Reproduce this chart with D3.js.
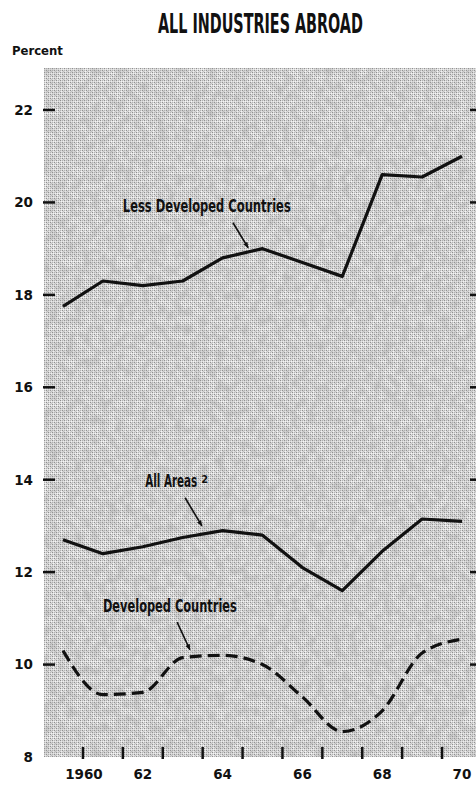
<!DOCTYPE html>
<html>
<head>
<meta charset="utf-8">
<script src="https://cdn.jsdelivr.net/npm/d3@7"></script>
<style>
  html, body { margin: 0; padding: 0; background: #fff; }
  svg { display: block; }
</style>
</head>
<body>
<svg id="chart" width="476" height="786"></svg>
<script>
// Rate of return, all industries abroad, 1960-1970 (percent)
const years = [1960, 1961, 1962, 1963, 1964, 1965, 1966, 1967, 1968, 1969, 1970];
const lessDeveloped = [17.75, 18.3, 18.2, 18.3, 18.8, 19.0, 18.7, 18.4, 20.6, 20.55, 21.0];
const allAreas      = [12.7, 12.4, 12.55, 12.75, 12.9, 12.8, 12.1, 11.6, 12.45, 13.15, 13.1];
const developed     = [10.3, 9.35, 9.4, 10.15, 10.2, 10.0, 9.3, 8.55, 9.0, 10.25, 10.55];

const yTicks = [8, 10, 12, 14, 16, 18, 20, 22];
const xTickYears = [1960, 1962, 1964, 1966, 1968, 1970];
const xTickLabels = ["1960", "62", "64", "66", "68", "70"];

const svg = d3.select("#chart");
const plot = { left: 44, right: 476, top: 68, bottom: 757 };

const x = d3.scaleLinear().domain([1960, 1970]).range([63, 462]);
const y = d3.scaleLinear().domain([8, 22]).range([757, 110]);

// Draws a text squeezed horizontally to a given width (condensed display type)
function fitText(g, str, px, py, width, size, family) {
  const t = g.append("text")
    .attr("font-family", family).attr("font-weight", "bold").attr("font-size", size)
    .attr("fill", "#111").text(str);
  const natural = t.node().getComputedTextLength();
  t.attr("transform", `translate(${px},${py}) scale(${width / natural},1)`);
  return t;
}

// ---- stippled background texture ----
const defs = svg.append("defs");
const pat = defs.append("pattern")
  .attr("id", "stipple").attr("patternUnits", "userSpaceOnUse")
  .attr("width", 4).attr("height", 4);
pat.append("rect").attr("width", 4).attr("height", 4).attr("fill", "#dedede");
[[0,0,"#8e8e8e"],[2,0,"#b4b4b4"],[1,1,"#f4f4f4"],[3,1,"#f4f4f4"],[0,2,"#b4b4b4"],[2,2,"#8e8e8e"],[1,3,"#f4f4f4"],[3,3,"#c8c8c8"]]
  .forEach(([px, py, c]) => pat.append("rect").attr("x", px).attr("y", py)
    .attr("width", 1).attr("height", 1).attr("fill", c));

const mottle = defs.append("filter").attr("id", "mottle")
  .attr("x", 0).attr("y", 0).attr("width", 1).attr("height", 1);
mottle.append("feTurbulence").attr("type", "fractalNoise")
  .attr("baseFrequency", 0.12).attr("numOctaves", 2).attr("seed", 7).attr("result", "n");
mottle.append("feColorMatrix").attr("in", "n").attr("type", "matrix")
  .attr("values", "0 0 0 0 0.35  0 0 0 0 0.35  0 0 0 0 0.35  1.6 0 0 0 -0.55");
mottle.append("feComposite").attr("in2", "SourceGraphic").attr("operator", "in");

svg.append("rect")
  .attr("x", plot.left).attr("y", plot.top)
  .attr("width", plot.right - plot.left).attr("height", plot.bottom - plot.top)
  .attr("fill", "url(#stipple)").attr("shape-rendering", "crispEdges");
svg.append("rect")
  .attr("x", plot.left).attr("y", plot.top)
  .attr("width", plot.right - plot.left).attr("height", plot.bottom - plot.top)
  .attr("fill", "#fff").attr("filter", "url(#mottle)").attr("opacity", 0.55);

// ---- titles ----
const condensed = "'Liberation Sans Narrow', 'DejaVu Sans Condensed', 'Roboto', sans-serif";
const geo = "'DejaVu Sans', 'Noto Sans', sans-serif";

fitText(svg, "ALL INDUSTRIES ABROAD", 158, 33, 205, 26, condensed);
fitText(svg, "Percent", 12, 55, 51, 12.5, geo);

// ---- y axis: labels and tick dashes on both sides ----
const yAxis = svg.append("g").attr("class", "y-axis");
yAxis.selectAll("text").data(yTicks).join("text")
  .attr("x", 33).attr("y", d => y(d)).attr("dy", "0.36em")
  .attr("text-anchor", "end")
  .attr("font-family", geo).attr("font-weight", "bold").attr("font-size", 13.5)
  .attr("fill", "#111").text(d => d);
const dashTicks = yTicks.filter(d => d > 8);
yAxis.selectAll("line.l").data(dashTicks).join("line").attr("class", "l")
  .attr("x1", 43).attr("x2", 55).attr("y1", d => y(d)).attr("y2", d => y(d))
  .attr("stroke", "#111").attr("stroke-width", 2.5);
yAxis.selectAll("line.r").data(dashTicks).join("line").attr("class", "r")
  .attr("x1", 470).attr("x2", 476).attr("y1", d => y(d)).attr("y2", d => y(d))
  .attr("stroke", "#111").attr("stroke-width", 2.5);

// ---- x axis: year-boundary ticks, labels at the plotted years ----
const xAxis = svg.append("g").attr("class", "x-axis");
xAxis.selectAll("line").data(years.slice(0, 10)).join("line")
  .attr("x1", d => x(d + 0.5)).attr("x2", d => x(d + 0.5))
  .attr("y1", 747).attr("y2", 759)
  .attr("stroke", "#111").attr("stroke-width", 2.5);
xAxis.selectAll("text").data(xTickYears).join("text")
  .attr("x", (d, i) => i === 0 ? x(d + 0.5) + 1 : x(d))
  .attr("y", 779)
  .attr("text-anchor", "middle")
  .attr("font-family", geo).attr("font-weight", "bold").attr("font-size", 13.5)
  .attr("fill", "#111").text((d, i) => xTickLabels[i]);

// ---- series lines ----
const line = d3.line().x((d, i) => x(years[i])).y(d => y(d));
const smooth = d3.line().x((d, i) => x(years[i])).y(d => y(d)).curve(d3.curveMonotoneX);

svg.append("path").datum(lessDeveloped).attr("d", line)
  .attr("fill", "none").attr("stroke", "#111").attr("stroke-width", 3.2)
  .attr("stroke-linejoin", "round");
svg.append("path").datum(allAreas).attr("d", line)
  .attr("fill", "none").attr("stroke", "#111").attr("stroke-width", 3.2)
  .attr("stroke-linejoin", "round");
svg.append("path").datum(developed).attr("d", smooth)
  .attr("fill", "none").attr("stroke", "#111").attr("stroke-width", 3.2)
  .attr("stroke-dasharray", "12,6");

// ---- annotations ----
defs.append("marker").attr("id", "arrow")
  .attr("viewBox", "0 0 10 10").attr("refX", 9).attr("refY", 5)
  .attr("markerWidth", 6).attr("markerHeight", 6).attr("markerUnits", "userSpaceOnUse")
  .attr("orient", "auto")
  .append("path").attr("d", "M0,1 L10,5 L0,9 Z").attr("fill", "#111");

const notes = [
  { text: "Less Developed Countries", at: [1961.5, 19.8], len: 168, from: [1964.26, 19.56], to: [1964.64, 19.02] },
  { text: "All Areas", at: [1962.06, 13.84], len: 52, sup: "2", from: [1963.06, 13.61], to: [1963.48, 13.0] },
  { text: "Developed Countries", at: [1961.0, 11.14], len: 134, from: [1962.86, 10.92], to: [1963.18, 10.32] }
];
const ann = svg.append("g").attr("class", "annotations");
notes.forEach(n => {
  fitText(ann, n.text, x(n.at[0]), y(n.at[1]), n.len, 17.5, condensed);
  if (n.sup) {
    ann.append("text")
      .attr("x", x(n.at[0]) + n.len + 4).attr("y", y(n.at[1]) - 4)
      .attr("font-family", condensed).attr("font-weight", "bold").attr("font-size", 11)
      .attr("fill", "#111").text(n.sup);
  }
  ann.append("line")
    .attr("x1", x(n.from[0])).attr("y1", y(n.from[1]))
    .attr("x2", x(n.to[0])).attr("y2", y(n.to[1]))
    .attr("stroke", "#111").attr("stroke-width", 1.6)
    .attr("marker-end", "url(#arrow)");
});
</script>
</body>
</html>
